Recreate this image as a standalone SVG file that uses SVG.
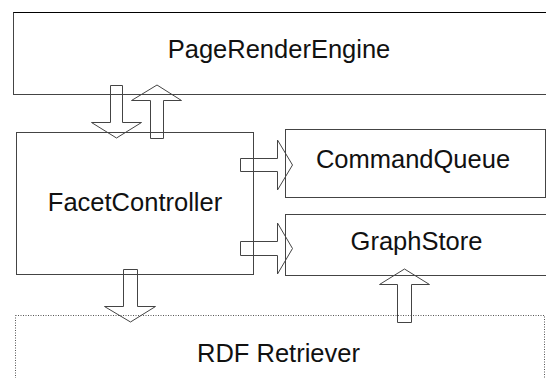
<svg xmlns="http://www.w3.org/2000/svg" width="546" height="378" viewBox="0 0 546 378">
<style>
.box{fill:none;stroke:#444;stroke-width:1}
.dot{fill:none;stroke:#555;stroke-width:1;stroke-dasharray:1 1.5}
.arr{fill:none;stroke:#444;stroke-width:1;stroke-linejoin:miter}
.lbl{font-family:"Liberation Sans",Arial,sans-serif;font-size:25.5px;fill:#111;text-anchor:middle}
</style>
<rect width="546" height="378" fill="#fff"/>
<g id="PageRenderEngine">
<rect class="box" x="13.5" y="12.5" width="540" height="82"/>
<line x1="13.5" y1="12.5" x2="546" y2="12.5" stroke="#000"/>
<text class="lbl" x="279" y="58">PageRenderEngine</text>
</g>
<g id="FacetController">
<rect class="box" x="16.5" y="132.5" width="237" height="142"/>
<text class="lbl" x="135" y="211">FacetController</text>
</g>
<g id="CommandQueue">
<rect class="box" x="285.5" y="129.5" width="260" height="68"/>
<text class="lbl" x="413" y="167.5">CommandQueue</text>
</g>
<g id="GraphStore">
<rect class="box" x="285.5" y="214.5" width="270" height="61"/>
<text class="lbl" x="416.5" y="250">GraphStore</text>
</g>
<g id="RDFRetriever">
<rect class="dot" x="15.5" y="315.5" width="529" height="80"/>
<text class="lbl" x="278.5" y="362">RDF Retriever</text>
</g>
<g id="connectors">
<path class="arr" d="M110.5,85.5 H122.5 V122.5 H141.5 L116.5,138 L91.5,122.5 H110.5 Z"/>
<path class="arr" d="M150.5,138.5 V100.5 H131.5 L157,85 L181.5,100.5 H163.5 V138.5 Z"/>
<path class="arr" d="M240.5,158.5 H277.5 V140 L292.5,165 L277.5,190 V171.5 H240.5 Z"/>
<path class="arr" d="M240.5,241.5 H277.5 V223 L292.5,248.5 L277.5,274 V255.5 H240.5 Z"/>
<path class="arr" d="M123.5,269.5 H137.5 V306.5 H155.5 L130.5,322 L104.5,306.5 H123.5 Z"/>
<path class="arr" d="M397.5,322.5 V284.5 H379.5 L404.5,269 L429.5,284.5 H411.5 V322.5 Z"/>
</g>
</svg>
